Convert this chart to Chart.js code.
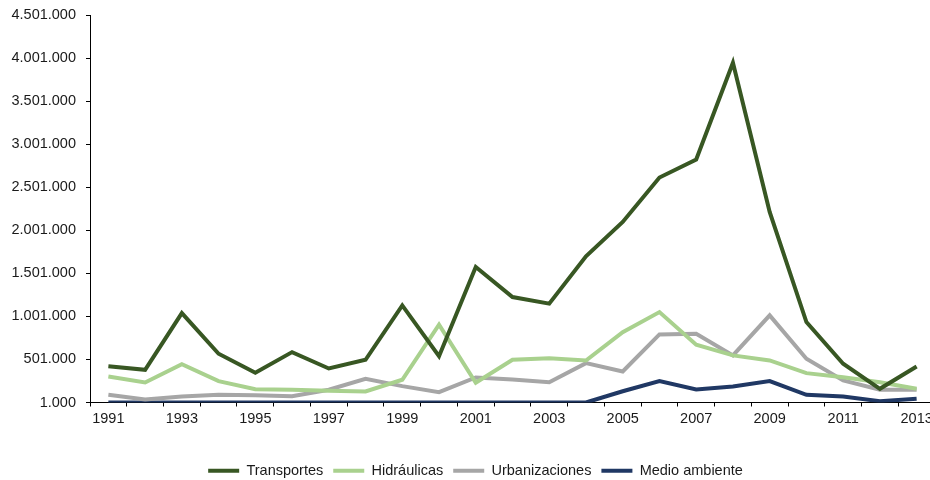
<!DOCTYPE html>
<html>
<head>
<meta charset="utf-8">
<script src="https://cdn.jsdelivr.net/npm/chart.js@4/dist/chart.umd.min.js"></script>
<style>
  html, body { margin: 0; padding: 0; background: #fff; overflow: hidden; }
  #wrap { position: relative; width: 940px; height: 480px; }
</style>
</head>
<body>
<div id="wrap"><canvas id="c" width="940" height="480"></canvas></div>
<script>
const years = ['1991','1992','1993','1994','1995','1996','1997','1998','1999','2000','2001','2002','2003','2004','2005','2006','2007','2008','2009','2010','2011','2012','2013'];
const transportes = [423000,381000,1039000,567000,346000,586000,396000,497000,1129000,539000,1574000,1226000,1149000,1699000,2098000,2614000,2823000,3946000,2214000,935000,451000,160000,420000];
const hidraulicas = [303000,234000,446000,249000,156000,149000,137000,129000,265000,904000,230000,497000,516000,489000,818000,1051000,672000,548000,489000,342000,295000,237000,160000];
const urbanizaciones = [90000,36000,71000,90000,86000,74000,149000,277000,191000,121000,292000,268000,237000,458000,361000,792000,800000,548000,1013000,509000,257000,149000,149000];
const medioAmbiente = [1000,1000,1000,1000,1000,1000,1000,1000,1000,1000,1000,1000,1000,1000,132000,249000,152000,187000,249000,90000,71000,16000,44000];
const seriesNames = ['Transportes','Hidráulicas','Urbanizaciones','Medio ambiente'];
const seriesColors = ['#385723','#A9D18E','#A6A6A6','#203864'];
const yMin = 1000, yMax = 4501000, yStep = 500000;

const fmt = v => Math.round(v).toString().replace(/\B(?=(\d{3})+(?!\d))/g, '.');
const font = { family: '"Liberation Sans", Arial, sans-serif', size: 14.5 };
const seriesData = [transportes, hidraulicas, urbanizaciones, medioAmbiente];

const legendShift = {
  id: 'legendShift',
  afterLayout(chart) {
    const l = chart.legend;
    if (l) { l.left += 8; l.right += 8; }
  }
};

new Chart(document.getElementById('c'), {
  type: 'line',
  data: {
    labels: years,
    datasets: seriesData.map((d, i) => ({
      label: seriesNames[i],
      data: d,
      borderColor: seriesColors[i],
      backgroundColor: seriesColors[i],
      borderWidth: 4,
      pointRadius: 0,
      tension: 0,
      borderJoinStyle: 'miter'
    }))
  },
  plugins: [legendShift],
  options: {
    responsive: false,
    animation: false,
    layout: { padding: { top: 15, right: 5, left: 0, bottom: -8 } },
    plugins: {
      tooltip: { enabled: false },
      legend: {
        position: 'bottom',
        labels: {
          font: font,
          color: '#1a1a1a',
          usePointStyle: true,
          pointStyle: 'line',
          pointStyleWidth: 31,
          padding: 10
        }
      }
    },
    scales: {
      x: {
        type: 'category',
        offset: true,
        afterFit: s => { s.height = 51; },
        grid: { display: true, drawOnChartArea: false, drawTicks: true, tickLength: 4, color: '#000', offset: true },
        border: { display: true, color: '#000', width: 1 },
        ticks: {
          autoSkip: false, maxRotation: 0, minRotation: 0, padding: 4,
          font: font, color: '#1a1a1a',
          callback: function(v, i) { return i % 2 === 0 ? this.getLabelForValue(v) : ''; }
        }
      },
      y: {
        min: yMin, max: yMax,
        afterFit: s => { s.width = 90; s.paddingTop = 0; s.paddingBottom = 0; },
        grid: { display: true, drawOnChartArea: false, drawTicks: true, tickLength: 4, color: '#000' },
        border: { display: true, color: '#000', width: 1 },
        ticks: { stepSize: yStep, padding: 10, font: font, color: '#1a1a1a', callback: v => fmt(v) }
      }
    }
  }
});
</script>
</body>
</html>
